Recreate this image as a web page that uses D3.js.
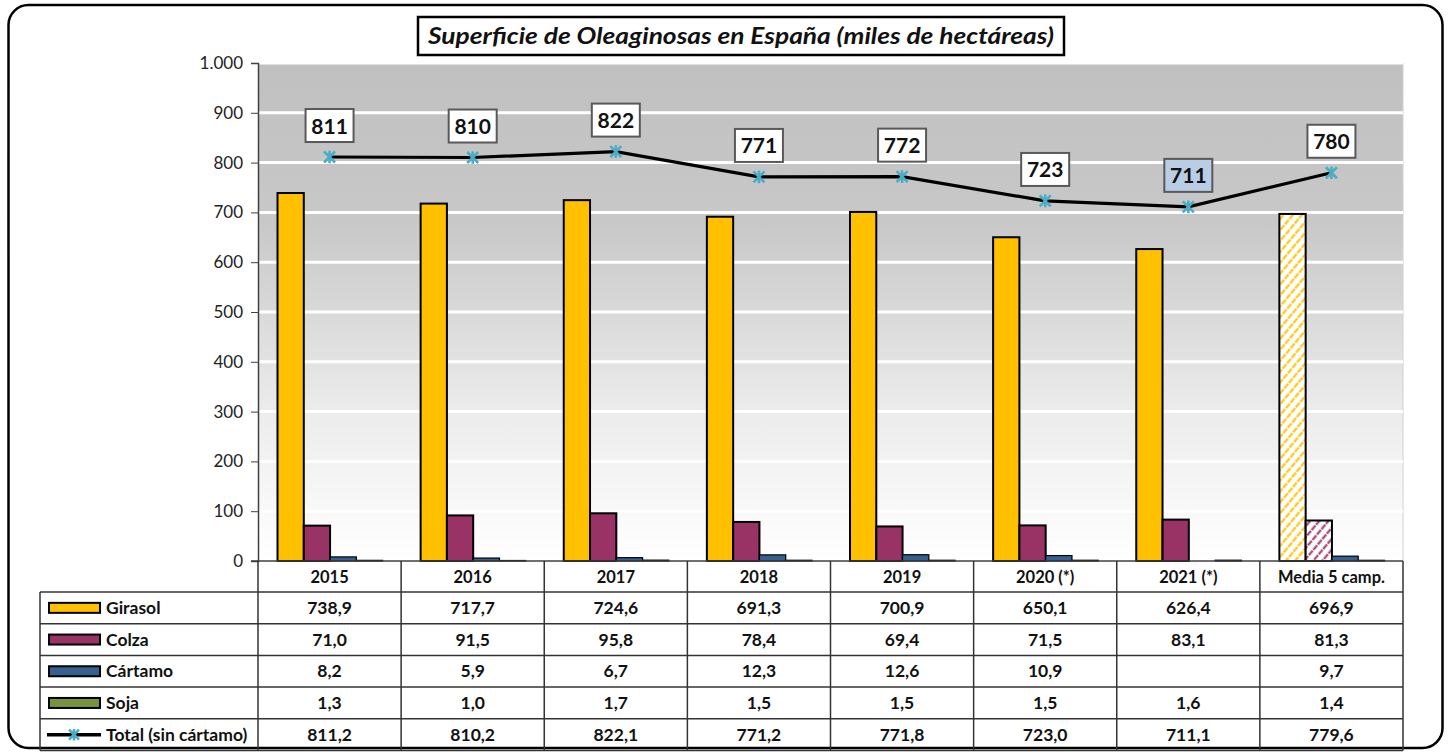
<!DOCTYPE html>
<html><head><meta charset="utf-8">
<script src="https://cdn.jsdelivr.net/npm/d3@7"></script>
<style>body{margin:0;background:#fff}svg{display:block}</style>
</head><body>
<script>
const categories = ["2015","2016","2017","2018","2019","2020 (*)","2021 (*)","Media 5 camp."];
const girasol = [738.9,717.7,724.6,691.3,700.9,650.1,626.4,696.9];
const colza   = [71.0,91.5,95.8,78.4,69.4,71.5,83.1,81.3];
const cartamo = [8.2,5.9,6.7,12.3,12.6,10.9,null,9.7];
const soja    = [1.3,1.0,1.7,1.5,1.5,1.5,1.6,1.4];
const total   = [811.2,810.2,822.1,771.2,771.8,723.0,711.1,779.6];
const yTicks  = [0,100,200,300,400,500,600,700,800,900,1000];
const seriesNames = ["Girasol","Colza","Cártamo","Soja"];
const seriesColors = ["#ffc000","#993366","#366092","#77933c"];
const series = [girasol,colza,cartamo,soja];

const W=1450,H=752;
const FONT="Lato, 'Open Sans', sans-serif";
const svg=d3.select("body").append("svg").attr("width",W).attr("height",H).style("font-family",FONT);
const defs=svg.append("defs");
const grad=defs.append("linearGradient").attr("id","bg").attr("x1",0).attr("y1",0).attr("x2",0).attr("y2",1);
grad.append("stop").attr("offset","0").attr("stop-color","#c0c0c0");
grad.append("stop").attr("offset","0.32").attr("stop-color","#c8c8c8");
grad.append("stop").attr("offset","0.7").attr("stop-color","#ececec");
grad.append("stop").attr("offset","1").attr("stop-color","#ffffff");
function hatch(id,color){
  const p=defs.append("pattern").attr("id",id).attr("patternUnits","userSpaceOnUse")
    .attr("width",7).attr("height",7).attr("patternTransform","rotate(40)");
  p.append("rect").attr("width",7).attr("height",7).attr("fill","#fff");
  p.append("line").attr("x1",1.5).attr("y1",0).attr("x2",1.5).attr("y2",7).attr("stroke",color).attr("stroke-width",2).attr("stroke-dasharray","4,1");
}
hatch("hG","#ffc000");hatch("hC","#993366");

svg.append("rect").attr("x",8.5).attr("y",5).attr("width",1434).attr("height",743).attr("rx",20)
  .attr("fill","#fff").attr("stroke","#000").attr("stroke-width",2.5);

const L=258,R=1403,T=63,B=561;
const x=d3.scaleBand().domain(categories).range([L,R]).padding(0);
const bw=x.bandwidth();
const xs=d3.scaleBand().domain(seriesNames).range([19.5,bw-18.5]).padding(0);
const y=d3.scaleLinear().domain([0,1000]).range([B,T]);

svg.append("rect").attr("x",L).attr("y",T).attr("width",R-L).attr("height",B-T).attr("fill","url(#bg)");
svg.append("line").attr("x1",R).attr("x2",R).attr("y1",T).attr("y2",B).attr("stroke","#d0d0d0");
svg.append("g").selectAll("line").data(yTicks.filter(d=>d>0)).join("line")
  .attr("x1",L).attr("x2",R).attr("y1",d=>y(d)).attr("y2",d=>y(d)).attr("stroke","#fff").attr("stroke-width",3);

const fmtTick=d=>d>=1000?d3.format(",")(d).replace(/,/g,"."):String(d);
const ya=svg.append("g").attr("transform",`translate(${L},0)`)
  .call(d3.axisLeft(y).tickValues(yTicks).tickFormat(fmtTick).tickSize(7).tickPadding(8));
ya.select(".domain").attr("stroke","#404040").attr("stroke-width",1.5);
ya.selectAll(".tick line").attr("stroke","#404040");
ya.selectAll("text").attr("font-size",17).attr("fill","#222").style("font-family",FONT);

const gb=svg.append("g");
series.forEach((vals,si)=>{
  gb.selectAll(null).data(vals.map((v,i)=>({v,i}))).join("rect")
    .filter(d=>d.v!=null)
    .attr("x",d=>x(categories[d.i])+xs(seriesNames[si]))
    .attr("width",xs.bandwidth())
    .attr("y",d=>y(d.v))
    .attr("height",d=>B-y(d.v))
    .attr("fill",d=>{
      if(d.i===categories.length-1){ if(si===0) return "url(#hG)"; if(si===1) return "url(#hC)"; }
      return seriesColors[si];})
    .attr("stroke","#000").attr("stroke-width",si>=2?1.2:2);
});
svg.append("line").attr("x1",L-7).attr("x2",R).attr("y1",B).attr("y2",B).attr("stroke","#404040").attr("stroke-width",1.5);

const cx=c=>x(c)+bw/2;
const line=d3.line().x((d,i)=>cx(categories[i])).y(d=>y(d));
svg.append("path").datum(total).attr("d",line).attr("fill","none").attr("stroke","#000").attr("stroke-width",3.2);
function star(g,px,py,s){
  const p=`M${px-s},${py-s}L${px+s},${py+s}M${px-s},${py+s}L${px+s},${py-s}M${px},${py-s*1.15}L${px},${py+s*1.15}`;
  g.append("path").attr("d",p).attr("stroke","#4bacc6").attr("stroke-width",2.6).attr("fill","none");
}
const gm=svg.append("g");
total.forEach((v,i)=>star(gm,cx(categories[i]),y(v),5.5));
const gl=svg.append("g");
total.forEach((v,i)=>{
  const px=cx(categories[i]), py=y(v)-31;
  gl.append("rect").attr("x",px-24).attr("y",py-17).attr("width",48).attr("height",33)
    .attr("fill",i===6?"#b9cde5":"#fff").attr("stroke","#595959").attr("stroke-width",2);
  gl.append("text").attr("x",px).attr("y",py+7.5).attr("text-anchor","middle")
    .attr("font-size",21).attr("font-weight","bold").attr("fill","#111").text(d3.format(".0f")(v));
});

svg.append("rect").attr("x",418).attr("y",17).attr("width",646).attr("height",38)
  .attr("fill","#fff").attr("stroke","#000").attr("stroke-width",2.5);
svg.append("text").attr("x",741).attr("y",44).attr("text-anchor","middle")
  .attr("font-size",23).attr("font-weight","bold").attr("font-style","italic").attr("fill","#111")
  .attr("textLength",626).attr("lengthAdjust","spacingAndGlyphs")
  .text("Superficie de Oleaginosas en España (miles de hectáreas)");

const rowTop=592,rowH=31.7,TL=40;
const rows=[...seriesNames,"Total (sin cártamo)"];
const rowData=[girasol,colza,cartamo,soja,total];
const fmt=v=>v==null?"":d3.format(".1f")(v).replace(".",",");
const gt=svg.append("g");
categories.forEach(c=>{
  gt.append("text").attr("x",cx(c)).attr("y",583).attr("text-anchor","middle")
    .attr("font-size",16.5).attr("font-weight","bold").attr("fill","#111").text(c);
});
const bottom=rowTop+rowH*rows.length;
for(let r=0;r<=rows.length;r++){
  const yy=rowTop+r*rowH;
  gt.append("line").attr("x1",TL).attr("x2",R).attr("y1",yy).attr("y2",yy).attr("stroke","#333").attr("stroke-width",1.5);
}
gt.append("line").attr("x1",TL).attr("x2",TL).attr("y1",rowTop).attr("y2",bottom).attr("stroke","#333").attr("stroke-width",1.5);
categories.concat(["__end"]).forEach((c,i)=>{
  const xx=i<categories.length?x(c):R;
  gt.append("line").attr("x1",xx).attr("x2",xx).attr("y1",B).attr("y2",bottom).attr("stroke","#333").attr("stroke-width",1.5);
});
rows.forEach((name,r)=>{
  const my=rowTop+r*rowH+rowH/2;
  if(r<4){
    gt.append("rect").attr("x",49).attr("y",my-5).attr("width",51).attr("height",10)
      .attr("fill",seriesColors[r]).attr("stroke","#000").attr("stroke-width",2);
  } else {
    gt.append("line").attr("x1",47).attr("x2",101).attr("y1",my).attr("y2",my).attr("stroke","#000").attr("stroke-width",3.5);
    star(gt,74,my,5);
  }
  gt.append("text").attr("x",106).attr("y",my+6).attr("font-size",17.5).attr("font-weight","bold").attr("fill","#111").text(name);
  rowData[r].forEach((v,i)=>{
    gt.append("text").attr("x",cx(categories[i])).attr("y",my+6).attr("text-anchor","middle")
      .attr("font-size",17.5).attr("font-weight","bold").attr("fill","#111").text(fmt(v));
  });
});
</script>
</body></html>
